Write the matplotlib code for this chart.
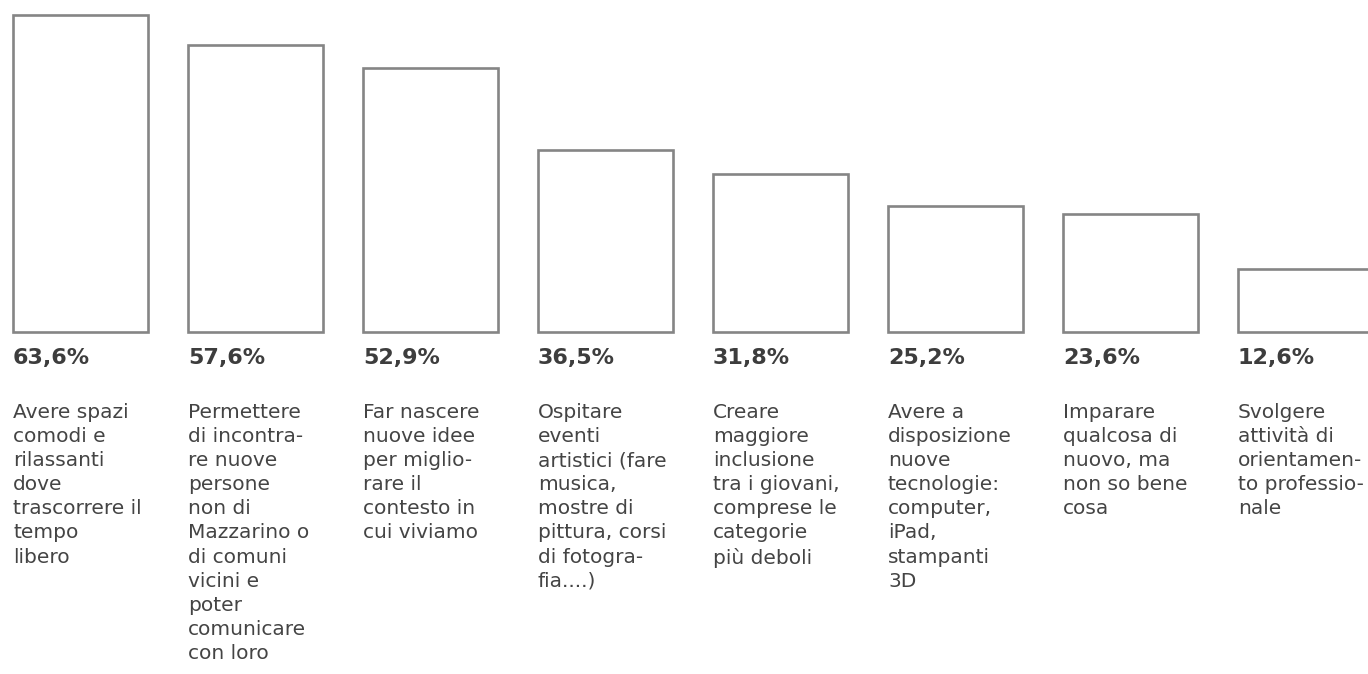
import matplotlib
matplotlib.use("Agg")
import matplotlib.pyplot as plt

values = [63.6, 57.6, 52.9, 36.5, 31.8, 25.2, 23.6, 12.6]
value_labels = ["63,6%", "57,6%", "52,9%", "36,5%", "31,8%", "25,2%", "23,6%", "12,6%"]
categories = [
    "Avere spazi\ncomodi e\nrilassanti\ndove\ntrascorrere il\ntempo\nlibero",
    "Permettere\ndi incontra-\nre nuove\npersone\nnon di\nMazzarino o\ndi comuni\nvicini e\npoter\ncomunicare\ncon loro",
    "Far nascere\nnuove idee\nper miglio-\nrare il\ncontesto in\ncui viviamo",
    "Ospitare\neventi\nartistici (fare\nmusica,\nmostre di\npittura, corsi\ndi fotogra-\nfia....)",
    "Creare\nmaggiore\ninclusione\ntra i giovani,\ncomprese le\ncategorie\npiù deboli",
    "Avere a\ndisposizione\nnuove\ntecnologie:\ncomputer,\niPad,\nstampanti\n3D",
    "Imparare\nqualcosa di\nnuovo, ma\nnon so bene\ncosa",
    "Svolgere\nattività di\norientamen-\nto professio-\nnale",
]

W, H = 1368, 674
fig = plt.figure(figsize=(W / 100, H / 100), dpi=100)
ax = fig.add_axes([0, 0, 1, 1])

step = 175.0
width = 135.0 / step
x0 = 80.5  # pixel center of first bar
scale = 4.984  # px per percent
base = 332.0  # pixel row of baseline from top

ax.set_xlim(-x0 / step, (W - x0) / step)
ax.set_ylim(-(H - base) / scale, base / scale)
ax.axis("off")

xs = list(range(len(values)))
ax.bar(xs, values, width=width, bottom=0, facecolor="white",
       edgecolor="#858585", linewidth=1.9)

def ypix(p):
    return (base - p) / scale

for i, (vl, cat) in enumerate(zip(value_labels, categories)):
    left = i - width / 2
    ax.text(left, ypix(358), vl, ha="left", va="center",
            fontsize=16, fontweight="bold", color="#3d3d3d",
            family="DejaVu Sans")
    ax.text(left, ypix(403), cat, ha="left", va="top",
            fontsize=14.5, color="#444444", linespacing=1.34,
            family="DejaVu Sans")

fig.savefig("out.png", dpi=100, facecolor="white")
